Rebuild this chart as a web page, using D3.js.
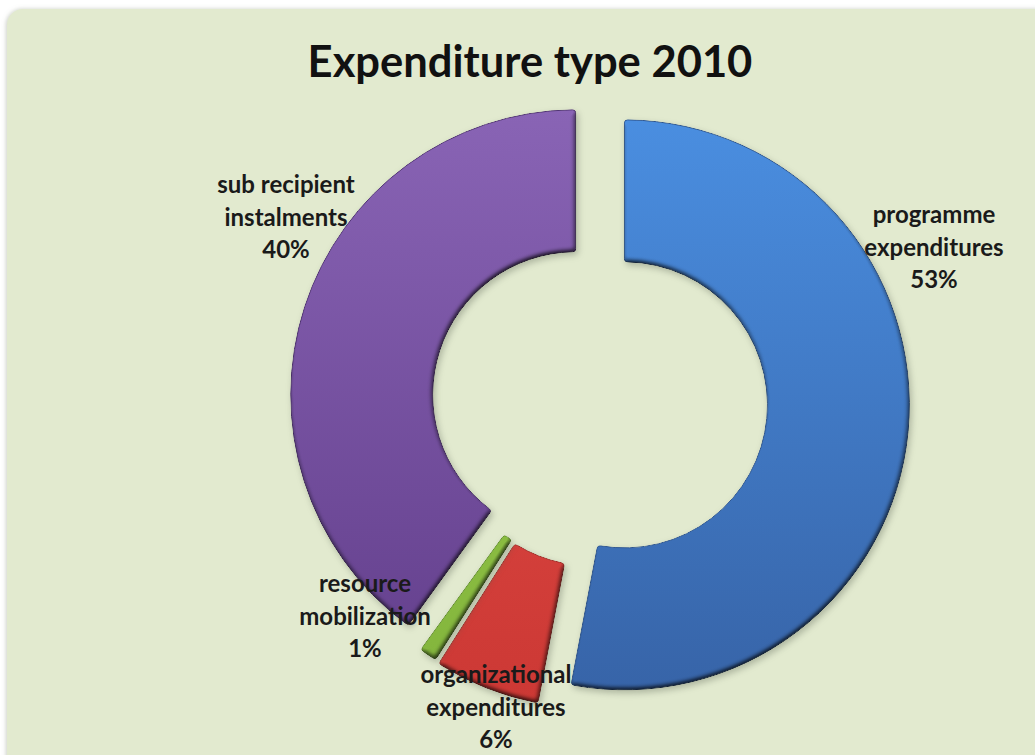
<!DOCTYPE html>
<html>
<head>
<meta charset="utf-8">
<script src="https://cdn.jsdelivr.net/npm/d3@7/dist/d3.min.js"></script>
<style>
  html, body { margin: 0; padding: 0; background: #ffffff; }
  svg { display: block; }
</style>
</head>
<body>
<svg id="chart" width="1035" height="755"></svg>
<script>
// ---- data ----
const categories = ["programme expenditures", "organizational expenditures", "resource mobilization", "sub recipient instalments"];
const values = [53, 6, 1, 40];
const labelLines = [
  ["programme", "expenditures", "53%"],
  ["organizational", "expenditures", "6%"],
  ["resource", "mobilization", "1%"],
  ["sub recipient", "instalments", "40%"]
];
const title = "Expenditure type 2010";

// ---- style / layout ----
const W = 1035, H = 755;
const cx = 599.5, cy = 402.5, R = 285, r = 143;
const explode = [25, 22, 20, 25];
const colorsTop = ["#4a8ee0", "#e4504a", "#9ccf4c", "#8964b5"];
const colorsBot = ["#3764a8", "#cc3834", "#82b43c", "#633f8c"];
const strokeCols = ["#2d5590", "#a02c28", "#5f8c2a", "#4f3272"];
const labelPos = [
  {x: 934, y: 223},
  {x: 496, y: 683},
  {x: 365, y: 592},
  {x: 286, y: 193}
];
const lineGap = 32.5;

const svg = d3.select("#chart");
const defs = svg.append("defs");

// frame shadow
const fs = defs.append("filter").attr("id", "frameShadow").attr("x", "-5%").attr("y", "-5%").attr("width", "110%").attr("height", "110%");
fs.append("feDropShadow").attr("dx", -1).attr("dy", 0).attr("stdDeviation", 2).attr("flood-color", "#9aa090").attr("flood-opacity", 0.5);

// bevel + shadow filter for slices
const bf = defs.append("filter").attr("id", "bevel")
  .attr("x", "-20%").attr("y", "-20%").attr("width", "140%").attr("height", "140%")
  .attr("color-interpolation-filters", "sRGB");
bf.append("feGaussianBlur").attr("in", "SourceAlpha").attr("stdDeviation", 2.5).attr("result", "blur");
bf.append("feDiffuseLighting").attr("in", "blur").attr("surfaceScale", 3).attr("diffuseConstant", 1.155)
  .attr("lighting-color", "#ffffff").attr("result", "light")
  .append("feDistantLight").attr("azimuth", 250).attr("elevation", 60);
bf.append("feComposite").attr("in", "SourceGraphic").attr("in2", "light").attr("operator", "arithmetic")
  .attr("k1", 1).attr("k2", 0).attr("k3", 0).attr("k4", 0).attr("result", "lit");
bf.append("feComposite").attr("in", "lit").attr("in2", "SourceAlpha").attr("operator", "in").attr("result", "litIn");
bf.append("feGaussianBlur").attr("in", "SourceAlpha").attr("stdDeviation", 3).attr("result", "sblur");
bf.append("feOffset").attr("in", "sblur").attr("dx", 2).attr("dy", 3).attr("result", "soff");
bf.append("feFlood").attr("flood-color", "#50584a").attr("flood-opacity", 0.35).attr("result", "sflood");
bf.append("feComposite").attr("in", "sflood").attr("in2", "soff").attr("operator", "in").attr("result", "shadow");
const bm = bf.append("feMerge");
bm.append("feMergeNode").attr("in", "shadow");
bm.append("feMergeNode").attr("in", "litIn");

colorsTop.forEach((c, i) => {
  const g = defs.append("linearGradient").attr("id", "grad" + i)
    .attr("gradientUnits", "userSpaceOnUse")
    .attr("x1", 0).attr("y1", -R).attr("x2", 0).attr("y2", R);
  g.append("stop").attr("offset", "0%").attr("stop-color", c);
  g.append("stop").attr("offset", "100%").attr("stop-color", colorsBot[i]);
});

// background frame
svg.append("rect")
  .attr("x", 7).attr("y", 9).attr("width", W + 20).attr("height", H + 20)
  .attr("rx", 16).attr("ry", 16)
  .attr("fill", "#e2eacf")
  .attr("filter", "url(#frameShadow)");

// title
const t = svg.append("text")
  .attr("x", 530).attr("y", 77)
  .attr("text-anchor", "middle")
  .attr("font-family", "Lato, 'Open Sans', sans-serif")
  .attr("font-weight", "bold")
  .attr("font-size", 42)
  .attr("fill", "#111")
  .text(title);
const tw = t.node().getComputedTextLength();
t.attr("font-size", 42 * 445 / tw);

// pie
const pie = d3.pie().sort(null).value(d => d).startAngle(0).endAngle(2 * Math.PI);
const arcs = pie(values);
const arc = d3.arc().innerRadius(r).outerRadius(R).cornerRadius(3);

const g = svg.append("g").attr("transform", `translate(${cx},${cy})`);
g.selectAll("path.slice")
  .data(arcs)
  .join("path")
  .attr("class", "slice")
  .attr("transform", (d, i) => {
    const mid = (d.startAngle + d.endAngle) / 2;
    return `translate(${Math.sin(mid) * explode[i]},${-Math.cos(mid) * explode[i]})`;
  })
  .attr("d", arc)
  .attr("fill", (d, i) => `url(#grad${i})`)
  .attr("stroke", (d, i) => strokeCols[i])
  .attr("stroke-width", 1)
  .attr("filter", "url(#bevel)");

// labels
const lg = svg.append("g")
  .attr("font-family", "Lato, 'Open Sans', sans-serif")
  .attr("font-weight", "bold")
  .attr("font-size", 24)
  .attr("fill", "#1a1a1a")
  .attr("text-anchor", "middle");

labelLines.forEach((lines, i) => {
  const txt = lg.append("text").attr("x", labelPos[i].x).attr("y", labelPos[i].y);
  lines.forEach((ln, j) => {
    txt.append("tspan").attr("x", labelPos[i].x).attr("y", labelPos[i].y + j * lineGap).text(ln);
  });
});
</script>
</body>
</html>
